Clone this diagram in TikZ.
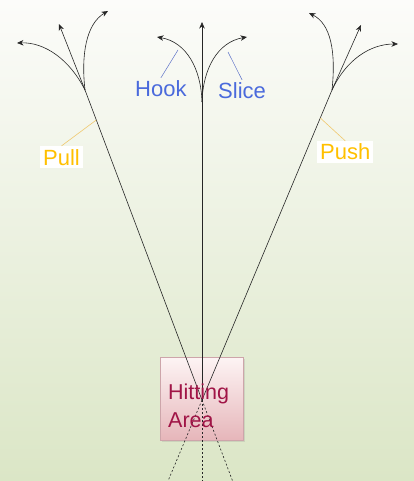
\documentclass[tikz,border=0pt]{standalone}
\usepackage{fontspec}
\setmainfont{Liberation Sans}
\usetikzlibrary{arrows.meta,shadows}
\definecolor{bgtop}{RGB}{252,252,250}
\definecolor{bgmid}{RGB}{238,242,228}
\definecolor{bgbot}{RGB}{219,230,198}
\definecolor{lblue}{RGB}{74,106,220}
\definecolor{lgold}{RGB}{255,192,0}
\definecolor{leadgold}{RGB}{240,200,110}
\definecolor{leadblue}{RGB}{95,115,200}
\definecolor{hitred}{RGB}{160,20,70}
\definecolor{boxtop}{RGB}{253,244,244}
\definecolor{boxbot}{RGB}{230,182,186}
\definecolor{boxedge}{RGB}{205,165,170}
\begin{document}
\begin{tikzpicture}[x=1pt,y=-1pt,
  shot/.style={line width=0.6pt, draw=black!85},
  arr/.style={shot,-{Stealth[length=6.5pt,width=5.5pt]}},
  dotline/.style={line width=0.6pt, draw=black!85, dash pattern=on 2pt off 2pt},
  lab/.style={font=\fontsize{22}{26}\selectfont, inner sep=3pt, anchor=base west},
  bluelab/.style={lab, text=lblue},
  goldlab/.style={lab, text=lgold, fill=white},
  leadb/.style={draw=leadblue, line width=0.5pt},
  leadg/.style={draw=leadgold, line width=0.6pt},
  hitbox/.style={draw=boxedge, line width=0.6pt, top color=boxtop, bottom color=boxbot,
    minimum width=83pt, minimum height=83pt, inner sep=0pt,
    drop shadow={opacity=0.2, shadow xshift=1.5pt, shadow yshift=-1.5pt}},
  hitlab/.style={font=\fontsize{21.5}{28}\selectfont, text=hitred, align=left, inner sep=0pt}
]
\useasboundingbox (0,0) rectangle (414,481);
\shade[top color=bgtop, middle color=bgmid, bottom color=bgbot] (0,0) rectangle (414,481);

% hitting area
\node[hitbox] (hit) at (201.5,398.5) {};

% key points
\coordinate (X) at (202,400);
\coordinate (pullA) at (85,90);
\coordinate (pushA) at (332,90);
\coordinate (midA) at (202,102);
\coordinate (ctop) at (202,22);
\coordinate (lend) at (232.6,481);
\coordinate (rend) at (168,481);
\coordinate (cend) at (202,481);

% main shot lines
\draw[shot] (pullA) -- (X);
\draw[shot] (pushA) -- (X);
\draw[arr] (X) -- (ctop);
\draw[dotline] (X) -- (lend);
\draw[dotline] (X) -- (rend);
\draw[dotline] (X) -- (cend);

% pull group
\coordinate (pullS) at (59,24);
\coordinate (pullL) at (17,43);
\coordinate (pullR) at (108,11);
\draw[arr] (pullA) -- (pullS);
\draw[arr] (pullA) .. controls (70,60) and (45,42) .. (pullL);
\draw[arr] (pullA) .. controls (81,55) and (86,24) .. (pullR);

% push group
\coordinate (pushS) at (361,25);
\coordinate (pushL) at (309,13);
\coordinate (pushR) at (398,44);
\draw[arr] (pushA) -- (pushS);
\draw[arr] (pushA) .. controls (336,52) and (331,24) .. (pushL);
\draw[arr] (pushA) .. controls (346,60) and (370,44) .. (pushR);

% hook and slice
\coordinate (hookT) at (157,37);
\coordinate (sliceT) at (247,37);
\draw[arr] (midA) .. controls (201,68) and (186,42) .. (hookT);
\draw[arr] (midA) .. controls (203,68) and (218,42) .. (sliceT);

% labels
\node[bluelab] (hook) at (132,97) {Hook};
\node[bluelab] (slice) at (215,99) {Slice};
\node[goldlab] (pull) at (40,165) {Pull};
\node[goldlab] (push) at (317,160) {Push};
\node[hitlab, anchor=base west] (hittxt) at (168,427) {Hitting\\Area};

% leaders
\coordinate (hk1) at (178,50);
\coordinate (sl1) at (228,52);
\coordinate (pl1) at (96.3,120);
\coordinate (ps1) at (320.3,118);
\draw[leadb] (hk1) -- (hook.north);
\draw[leadb] (sl1) -- (slice.north);
\draw[leadg] (pl1) -- (pull.north);
\draw[leadg] (ps1) -- (push.north);
\end{tikzpicture}
\end{document}
